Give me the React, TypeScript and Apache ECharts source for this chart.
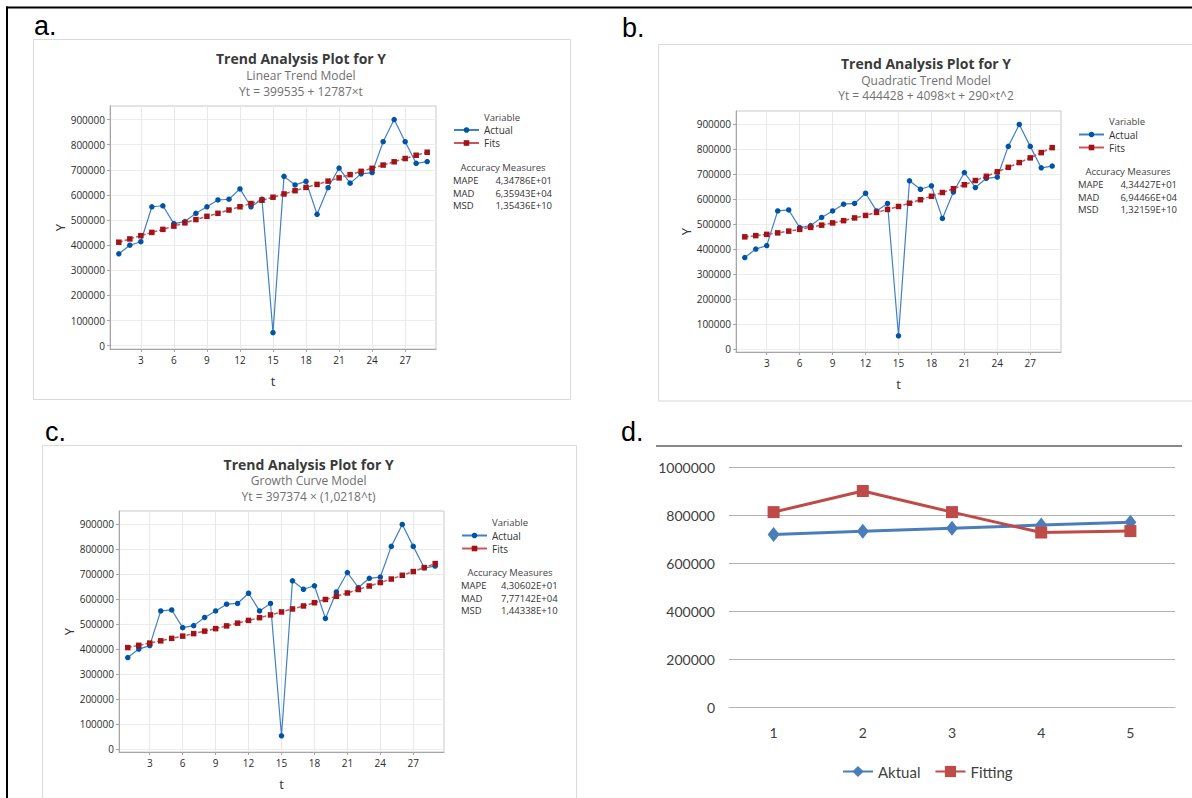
import React, { useEffect, useRef } from 'react';
import * as echarts from 'echarts';

// ---------- data ----------
const timeIdx = [1, 2, 3, 4, 5, 6, 7, 8, 9, 10, 11, 12, 13, 14, 15, 16, 17, 18, 19, 20, 21, 22, 23, 24, 25, 26, 27, 28, 29];
const actualY = [366000, 400000, 414000, 553000, 557000, 486000, 494000, 527000, 553000, 580000, 583000, 624000, 553000, 583000, 52000, 674000, 640000, 654000, 523000, 629000, 707000, 647000, 684000, 689000, 812000, 900000, 812000, 726000, 733000];
const linearFits = [412000, 425000, 438000, 451000, 463000, 476000, 489000, 502000, 515000, 527000, 540000, 553000, 566000, 579000, 591000, 604000, 617000, 630000, 642000, 655000, 668000, 681000, 694000, 706000, 719000, 732000, 745000, 758000, 770000];
const quadraticFits = [449000, 454000, 459000, 465000, 472000, 479000, 487000, 496000, 505000, 514000, 525000, 535000, 547000, 559000, 571000, 584000, 598000, 612000, 627000, 642000, 658000, 675000, 692000, 710000, 728000, 747000, 766000, 787000, 807000];
const growthFits = [406000, 415000, 424000, 433000, 443000, 452000, 462000, 472000, 482000, 493000, 504000, 515000, 526000, 537000, 549000, 561000, 573000, 586000, 599000, 612000, 625000, 639000, 653000, 667000, 681000, 696000, 711000, 727000, 743000];
const tTickLabels = [3, 6, 9, 12, 15, 18, 21, 24, 27];
const yTickLabels = [0, 100000, 200000, 300000, 400000, 500000, 600000, 700000, 800000, 900000];
const measureNames = ['MAPE', 'MAD', 'MSD'];
const linearMeasures = ['4,34786E+01', '6,35943E+04', '1,35436E+10'];
const quadraticMeasures = ['4,34427E+01', '6,94466E+04', '1,32159E+10'];
const growthMeasures = ['4,30602E+01', '7,77142E+04', '1,44338E+10'];
const dCategories = ['1', '2', '3', '4', '5'];
const dAktual = [719000, 732000, 745000, 758000, 770000];
const dFitting = [812000, 900000, 812000, 727000, 733000];

// ---------- styles ----------
const MT = '"Open Sans", "Noto Sans", sans-serif';
const XL = 'Lato, "Liberation Sans", sans-serif';
const AR = '"Liberation Sans", Arial, sans-serif';
const plain = (v: number) => String(v);

const panels = [
  {
    fits: linearFits, measures: linearMeasures,
    grid: { left: 110, top: 106, width: 326, height: 243 },
    cx: 301, ty: [58, 75, 91.7], sub: 'Linear Trend Model', eq: 'Yt = 399535 + 12787×t',
    legL: 453, legTop: 125, varC: 502, varY: 117.7, accC: 503, accY: [167.7, 180.3, 193.3, 205.7], valR: 552,
  },
  {
    fits: quadraticFits, measures: quadraticMeasures,
    grid: { left: 736, top: 111, width: 325, height: 241 },
    cx: 926, ty: [63.3, 80, 95.7], sub: 'Quadratic Trend Model', eq: 'Yt = 444428 + 4098×t + 290×t^2',
    legL: 1078, legTop: 129.5, varC: 1127, varY: 121.7, accC: 1128, accY: [171.7, 184.3, 197.3, 209.7], valR: 1177,
  },
  {
    fits: growthFits, measures: growthMeasures,
    grid: { left: 119, top: 511, width: 325, height: 241 },
    cx: 308.6, ty: [464.3, 480.7, 496.7], sub: 'Growth Curve Model', eq: 'Yt = 397374 × (1,0218^t)',
    legL: 461, legTop: 530.5, varC: 510, varY: 522.7, accC: 510, accY: [572, 585, 598, 610], valR: 557.6,
  },
];

function txt(x: number, y: number, text: string, o: any = {}) {
  return {
    type: 'text', x, y, silent: true,
    style: {
      text, textAlign: o.align || 'left', textVerticalAlign: 'middle',
      fontFamily: o.font || MT, fontSize: o.size || 10, fontWeight: o.weight || 'normal', fill: o.fill || '#333',
    },
  };
}

function buildOption() {
  const grids: any[] = [];
  const xAxes: any[] = [];
  const yAxes: any[] = [];
  const series: any[] = [];
  const legends: any[] = [];
  const graphics: any[] = [];

  panels.forEach((p, i) => {
    grids.push({ ...p.grid, show: true, borderColor: '#c8c8c8', borderWidth: 1, containLabel: false, outerBoundsMode: 'none' });
    xAxes.push({
      type: 'value', gridIndex: i, min: 0.2, max: 29.8,
      axisLine: { show: true, onZero: false, lineStyle: { color: '#a6a6a6' } },
      axisTick: { show: true, length: 3, customValues: tTickLabels, lineStyle: { color: '#a6a6a6' } },
      axisLabel: { customValues: tTickLabels, formatter: plain, fontFamily: MT, fontSize: 10, color: '#2b2b2b', margin: 6 },
      splitLine: { show: true, lineStyle: { color: '#e8e8e8', width: 1 } },
      name: 't', nameLocation: 'middle', nameGap: 25, nameMoveOverlap: false,
      nameTextStyle: { fontFamily: MT, fontSize: 13, color: '#333' },
    });
    yAxes.push({
      type: 'value', gridIndex: i, min: -13000, max: 954000,
      axisLine: { show: true, onZero: false, lineStyle: { color: '#a6a6a6' } },
      axisTick: { show: true, length: 3, customValues: yTickLabels, lineStyle: { color: '#a6a6a6' } },
      axisLabel: { customValues: yTickLabels, formatter: plain, fontFamily: MT, fontSize: 10, color: '#2b2b2b', margin: 5 },
      splitLine: { show: true, lineStyle: { color: '#ececec', width: 1 } },
      name: 'Y', nameLocation: 'middle', nameGap: 44, nameMoveOverlap: false,
      nameTextStyle: { fontFamily: MT, fontSize: 13, color: '#333' },
    });
    series.push({
      type: 'line', name: 'Actual', xAxisIndex: i, yAxisIndex: i,
      data: timeIdx.map((t, k) => [t, actualY[k]]),
      symbol: 'circle', symbolSize: 5.5, showAllSymbol: true,
      itemStyle: { color: '#0054a6' }, lineStyle: { color: '#3f80c8', width: 1.2 },
    });
    series.push({
      type: 'line', name: 'Fits', xAxisIndex: i, yAxisIndex: i,
      data: timeIdx.map((t, k) => [t, p.fits[k]]),
      symbol: 'rect', symbolSize: 5.5, showAllSymbol: true,
      itemStyle: { color: '#a01419' }, lineStyle: { color: '#cc5555', width: 1.5, type: [4, 2] },
    });
    legends.push({
      orient: 'vertical', left: p.legL, top: p.legTop, padding: 0, itemWidth: 25, itemHeight: 7, itemGap: 3,
      data: ['Actual', 'Fits'], selectedMode: false,
      lineStyle: { type: 'solid' },
      textStyle: { fontFamily: MT, fontSize: 10, color: '#333' },
    });
    graphics.push(txt(p.cx, p.ty[0], 'Trend Analysis Plot for Y', { align: 'center', size: 14, weight: 'bold', fill: '#3a3a3a' }));
    graphics.push(txt(p.cx, p.ty[1], p.sub, { align: 'center', size: 12, fill: '#707070' }));
    graphics.push(txt(p.cx, p.ty[2], p.eq, { align: 'center', size: 12, fill: '#707070' }));
    graphics.push(txt(p.varC, p.varY, 'Variable', { align: 'center', size: 9.5, fill: '#444' }));
    graphics.push(txt(p.accC, p.accY[0], 'Accuracy Measures', { align: 'center', size: 9.5, fill: '#444' }));
    measureNames.forEach((m, k) => {
      graphics.push(txt(p.legL, p.accY[k + 1], m, { size: 9.5, fill: '#333' }));
      graphics.push(txt(p.valR, p.accY[k + 1], p.measures[k], { align: 'right', size: 9.5, fill: '#333' }));
    });
  });

  // panel d
  grids.push({ left: 729, top: 467, width: 446, height: 240, containLabel: false, outerBoundsMode: 'none' });
  xAxes.push({
    type: 'category', gridIndex: 3, data: dCategories, boundaryGap: true,
    axisLine: { show: true, lineStyle: { color: '#b3b3b3' } }, axisTick: { show: false },
    axisLabel: { fontFamily: XL, fontSize: 14, color: '#404040', margin: 18 }, splitLine: { show: false },
  });
  yAxes.push({
    type: 'value', gridIndex: 3, min: 0, max: 1000000, interval: 200000,
    axisLine: { show: false }, axisTick: { show: false },
    axisLabel: { formatter: plain, fontFamily: XL, fontSize: 14, color: '#404040', margin: 14 },
    splitLine: { show: true, lineStyle: { color: '#b3b3b3' } },
  });
  series.push({
    type: 'line', name: 'Aktual', xAxisIndex: 3, yAxisIndex: 3, data: dAktual,
    symbol: 'diamond', symbolSize: [12, 15], itemStyle: { color: '#4a7ebb' }, lineStyle: { color: '#4a7ebb', width: 3 },
  });
  series.push({
    type: 'line', name: 'Fitting', xAxisIndex: 3, yAxisIndex: 3, data: dFitting,
    symbol: 'rect', symbolSize: 12, itemStyle: { color: '#be4b48' }, lineStyle: { color: '#be4b48', width: 3 },
  });
  legends.push({
    orient: 'horizontal', left: 842, top: 764, padding: 0, itemWidth: 30, itemHeight: 14, itemGap: 14,
    data: ['Aktual', 'Fitting'], selectedMode: false,
    textStyle: { fontFamily: XL, fontSize: 15, color: '#404040' },
  });

  // frames & decorations
  graphics.push({ type: 'line', silent: true, shape: { x1: 7, y1: 6.5, x2: 7, y2: 798 }, style: { stroke: '#000', lineWidth: 2 } });
  graphics.push({ type: 'line', silent: true, shape: { x1: 6, y1: 7.5, x2: 1192, y2: 7.5 }, style: { stroke: '#000', lineWidth: 2 } });
  graphics.push({ type: 'rect', silent: true, shape: { x: 33.5, y: 39.5, width: 537, height: 360 }, style: { fill: 'none', stroke: '#d9d9d9', lineWidth: 1 } });
  graphics.push({ type: 'rect', silent: true, shape: { x: 658.5, y: 44.5, width: 600, height: 356.5 }, style: { fill: 'none', stroke: '#d9d9d9', lineWidth: 1 } });
  graphics.push({ type: 'rect', silent: true, shape: { x: 42.5, y: 445.5, width: 534, height: 400 }, style: { fill: 'none', stroke: '#d9d9d9', lineWidth: 1 } });
  graphics.push({ type: 'line', silent: true, shape: { x1: 656, y1: 446, x2: 1182, y2: 446 }, style: { stroke: '#888888', lineWidth: 2 } });
  graphics.push(txt(34, 26, 'a.', { font: AR, size: 27, fill: '#000' }));
  graphics.push(txt(622, 28, 'b.', { font: AR, size: 27, fill: '#000' }));
  graphics.push(txt(45, 432, 'c.', { font: AR, size: 27, fill: '#000' }));
  graphics.push(txt(621, 432, 'd.', { font: AR, size: 27, fill: '#000' }));

  return {
    animation: false,
    backgroundColor: '#ffffff',
    grid: grids,
    xAxis: xAxes,
    yAxis: yAxes,
    series,
    legend: legends,
    graphic: { elements: graphics },
  };
}

export default function App() {
  const ref = useRef<HTMLDivElement>(null);
  useEffect(() => {
    if (!ref.current) return;
    const chart = echarts.init(ref.current, null, { renderer: 'svg' });
    chart.setOption(buildOption() as any);
    return () => chart.dispose();
  }, []);
  return (
    <div
      ref={ref}
      style={{ position: 'absolute', left: 0, top: 0, width: 1192, height: 798, background: '#fff' }}
    />
  );
}
